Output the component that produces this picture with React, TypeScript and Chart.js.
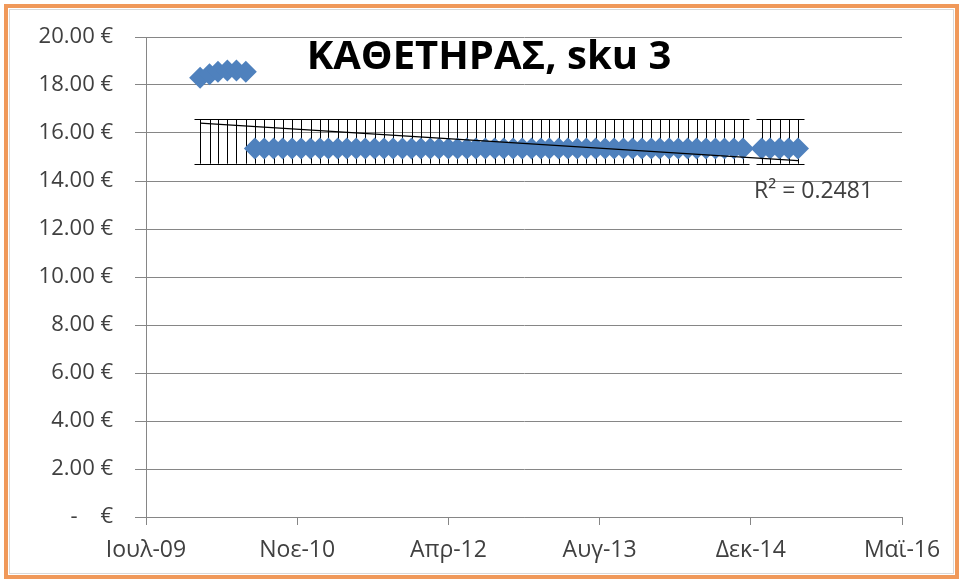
import React, { useEffect, useRef } from "react";
import { Chart, registerables } from "chart.js";

Chart.register(...registerables);

// ---- data ----
const months: string[] = [
  "2010-01", "2010-02", "2010-03", "2010-04", "2010-05", "2010-06",
  "2010-07", "2010-08", "2010-09", "2010-10", "2010-11", "2010-12",
  "2011-01", "2011-02", "2011-03", "2011-04", "2011-05", "2011-06",
  "2011-07", "2011-08", "2011-09", "2011-10", "2011-11", "2011-12",
  "2012-01", "2012-02", "2012-03", "2012-04", "2012-05", "2012-06",
  "2012-07", "2012-08", "2012-09", "2012-10", "2012-11", "2012-12",
  "2013-01", "2013-02", "2013-03", "2013-04", "2013-05", "2013-06",
  "2013-07", "2013-08", "2013-09", "2013-10", "2013-11", "2013-12",
  "2014-01", "2014-02", "2014-03", "2014-04", "2014-05", "2014-06",
  "2014-07", "2014-08", "2014-09", "2014-10", "2014-11", "2014-12",
  "2015-02", "2015-03", "2015-04", "2015-05", "2015-06",
];

const prices: number[] = [
  18.3, 18.45, 18.55, 18.6, 18.6, 18.55,
  15.35, 15.35, 15.35, 15.35, 15.35, 15.35,
  15.35, 15.35, 15.35, 15.35, 15.35, 15.35,
  15.35, 15.35, 15.35, 15.35, 15.35, 15.35,
  15.35, 15.35, 15.35, 15.35, 15.35, 15.35,
  15.35, 15.35, 15.35, 15.35, 15.35, 15.35,
  15.35, 15.35, 15.35, 15.35, 15.35, 15.35,
  15.35, 15.35, 15.35, 15.35, 15.35, 15.35,
  15.35, 15.35, 15.35, 15.35, 15.35, 15.35,
  15.35, 15.35, 15.35, 15.35, 15.35, 15.35,
  15.35, 15.35, 15.35, 15.35, 15.35,
];

const xTickLabels: string[] = ["Ιουλ-09", "Νοε-10", "Απρ-12", "Αυγ-13", "Δεκ-14", "Μαϊ-16"];
const X_MIN = 40000; // Excel serial date
const X_MAX = 42500;
const X_STEP = 500;
const Y_MIN = 0;
const Y_MAX = 20;
const Y_STEP = 2;

const chartTitle = "ΚΑΘΕΤΗΡΑΣ, sku 3";
const rSquaredText = "R² = 0.2481";

// ---- helpers ----
function toExcelSerial(ym: string): number {
  const [y, m] = ym.split("-").map(Number);
  return Math.round((Date.UTC(y, m - 1, 1) - Date.UTC(1899, 11, 30)) / 86400000);
}

const points = months.map((m, i) => ({ x: toExcelSerial(m), y: prices[i] }));

function regression(pts: { x: number; y: number }[]) {
  const n = pts.length;
  const mx = pts.reduce((s, p) => s + p.x, 0) / n;
  const my = pts.reduce((s, p) => s + p.y, 0) / n;
  let sxy = 0, sxx = 0;
  pts.forEach((p) => {
    sxy += (p.x - mx) * (p.y - my);
    sxx += (p.x - mx) * (p.x - mx);
  });
  const slope = sxy / sxx;
  return { slope, intercept: my - slope * mx };
}

function meanSd(vals: number[]) {
  const n = vals.length;
  const m = vals.reduce((s, v) => s + v, 0) / n;
  const v = vals.reduce((s, x) => s + (x - m) * (x - m), 0) / (n - 1);
  return { mean: m, sd: Math.sqrt(v) };
}

const reg = regression(points);
const xFirst = points[0].x;
const xLast = points[points.length - 1].x;
const trendPoints = [
  { x: xFirst, y: reg.intercept + reg.slope * xFirst },
  { x: xLast, y: reg.intercept + reg.slope * xLast },
];
const stats = meanSd(prices);

const FONT = "'Open Sans', 'Noto Sans', sans-serif";

const decorPlugin = {
  id: "decor",
  beforeDraw(chart: any) {
    const ctx = chart.ctx;
    ctx.save();
    ctx.fillStyle = "#ffffff";
    ctx.fillRect(0, 0, chart.width, chart.height);
    ctx.restore();
  },
  beforeDatasetsDraw(chart: any) {
    const ctx = chart.ctx;
    const xs = chart.scales.x;
    const ys = chart.scales.y;
    const yTop = ys.getPixelForValue(stats.mean + stats.sd);
    const yBot = ys.getPixelForValue(stats.mean - stats.sd);
    ctx.save();
    ctx.strokeStyle = "#000000";
    ctx.lineWidth = 1;
    ctx.beginPath();
    points.forEach((p) => {
      const px = Math.round(xs.getPixelForValue(p.x)) + 0.5;
      ctx.moveTo(px, yTop);
      ctx.lineTo(px, yBot);
      ctx.moveTo(px - 6, Math.round(yTop) + 0.5);
      ctx.lineTo(px + 6, Math.round(yTop) + 0.5);
      ctx.moveTo(px - 6, Math.round(yBot) + 0.5);
      ctx.lineTo(px + 6, Math.round(yBot) + 0.5);
    });
    ctx.stroke();
    ctx.restore();
  },
  afterDraw(chart: any) {
    const ctx = chart.ctx;
    const xs = chart.scales.x;
    const ys = chart.scales.y;
    ctx.save();
    // title
    ctx.fillStyle = "#000000";
    ctx.font = `bold 40px ${FONT}`;
    ctx.textAlign = "center";
    ctx.textBaseline = "alphabetic";
    ctx.fillText(chartTitle, 489, 69);
    // R² label
    ctx.fillStyle = "#404040";
    ctx.font = `23px ${FONT}`;
    ctx.textAlign = "left";
    ctx.fillText(rSquaredText, xs.getPixelForValue(xLast) - 44, ys.getPixelForValue(13.3));
    // frame
    ctx.strokeStyle = "#d9d9d9";
    ctx.lineWidth = 1;
    ctx.strokeRect(9.5, 9.5, chart.width - 19, chart.height - 19);
    ctx.strokeStyle = "#F0995A";
    ctx.lineWidth = 4;
    ctx.strokeRect(6, 6, chart.width - 12, chart.height - 12);
    ctx.restore();
  },
};

export default function App() {
  const canvasRef = useRef<HTMLCanvasElement | null>(null);

  useEffect(() => {
    if (!canvasRef.current) return;
    const chart = new Chart(canvasRef.current, {
      type: "scatter",
      data: {
        datasets: [
          {
            label: "price",
            data: points,
            pointStyle: "rectRot",
            pointRadius: 11,
            pointHoverRadius: 11,
            backgroundColor: "#4F81BD",
            borderColor: "#4F81BD",
            borderWidth: 0,
            showLine: false,
            order: 2,
          },
          {
            label: "trend",
            type: "line",
            data: trendPoints,
            borderColor: "#000000",
            borderWidth: 1.3,
            pointRadius: 0,
            fill: false,
            order: 1,
          } as any,
        ],
      },
      options: {
        animation: false,
        responsive: false,
        maintainAspectRatio: false,
        events: [],
        layout: { padding: { top: 37, right: 61, left: 0, bottom: 0 } },
        plugins: {
          legend: { display: false },
          title: { display: false },
          tooltip: { enabled: false },
        },
        scales: {
          x: {
            type: "linear",
            min: X_MIN,
            max: X_MAX,
            afterBuildTicks: (scale: any) => {
              const t = [];
              for (let v = X_MIN; v <= X_MAX; v += X_STEP) t.push({ value: v });
              scale.ticks = t;
            },
            afterFit: (scale: any) => {
              scale.height = 66;
            },
            grid: {
              drawOnChartArea: false,
              drawTicks: true,
              tickLength: 8,
              color: "#868686",
            },
            border: { display: true, color: "#868686", width: 1 },
            ticks: {
              padding: 12,
              maxRotation: 0,
              autoSkip: false,
              color: "#404040",
              font: { family: FONT, size: 23 },
              callback: (_v: any, i: number) => xTickLabels[i],
            },
          },
          y: {
            type: "linear",
            min: Y_MIN,
            max: Y_MAX,
            afterFit: (scale: any) => {
              scale.width = 146;
            },
            grid: {
              color: "#868686",
              drawTicks: true,
              tickLength: 11,
            },
            border: { display: true, color: "#868686", width: 1 },
            ticks: {
              stepSize: Y_STEP,
              padding: 22,
              color: "#404040",
              font: { family: FONT, size: 22 },
              callback: (v: any) => (Number(v) === 0 ? "-    €" : Number(v).toFixed(2) + " €"),
            },
          },
        },
      },
      plugins: [decorPlugin],
    });
    return () => chart.destroy();
  }, []);

  return (
    <div style={{ position: "absolute", left: 0, top: 0, width: 963, height: 583, background: "#fff" }}>
      <canvas ref={canvasRef} width={963} height={583} style={{ display: "block" }} />
    </div>
  );
}
